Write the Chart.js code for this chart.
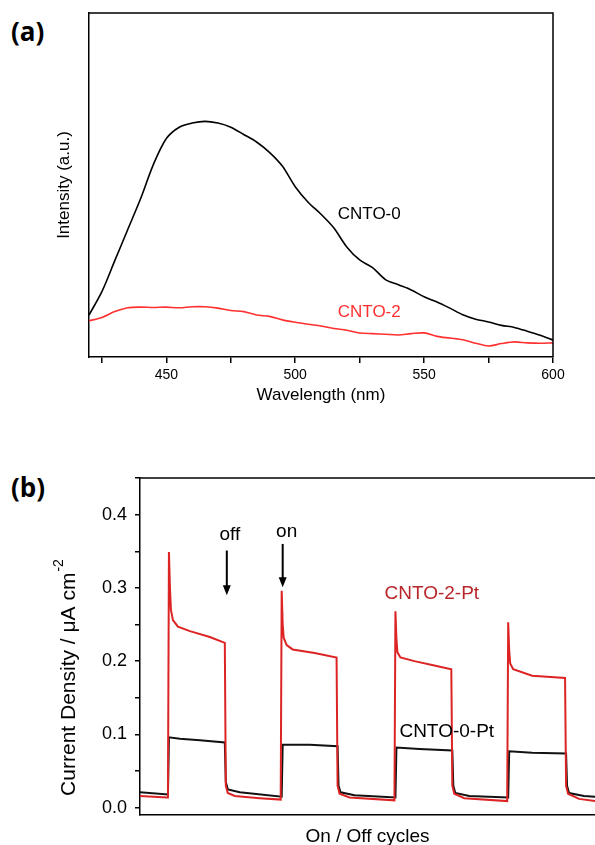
<!DOCTYPE html>
<html>
<head>
<meta charset="utf-8">
<script src="https://cdn.jsdelivr.net/npm/chart.js@4.4.0/dist/chart.umd.min.js"></script>
<style>
    html, body { margin: 0; padding: 0; width: 595px; height: 845px; overflow: hidden; background: #fff; }
    .panel-label { position: absolute; font-family: 'Open Sans', sans-serif; font-weight: 700; font-size: 26px; line-height: 1; color: #000; }
    #wrapA { position: absolute; left: 0; top: 0; width: 595px; height: 415px; }
    #wrapB { position: absolute; left: 0; top: 430px; width: 595px; height: 430px; }
</style>
</head>
<body>
<div class="panel-label" style="left:11px; top:18px;">(a)</div>
<div class="panel-label" style="left:11px; top:474px;">(b)</div>
<div id="wrapA"><canvas id="plChart"></canvas></div>
<div id="wrapB"><canvas id="currentChart"></canvas></div>
<script>
    // (a) PL spectra (arbitrary intensity units)
    const wavelengths = [420, 425, 430, 435, 440, 445, 450, 455, 460, 465, 470, 475, 480, 485, 490, 495, 500,
        505, 510, 515, 520, 525, 530, 535, 540, 545, 550, 555, 560, 565, 570, 575, 580, 585, 590, 595, 600];
    const cnto0 = [12.2, 19, 28, 37, 46, 56, 63.5, 66.8, 68, 68.5, 68, 66.8, 64.7, 62.5, 59.5, 55.5, 49.5,
        45, 41.5, 37.5, 32, 28.2, 26, 22.5, 21, 19.5, 17.5, 16, 14.2, 12.3, 11, 10.2, 9.2, 8.6, 7.5, 6.3, 4.9];
    const cnto2 = [10.5, 11.5, 13.2, 14.3, 14.5, 14.4, 14.5, 14.3, 14.6, 14.6, 14.2, 13.5, 13.2, 12.2, 11.8, 10.8, 10.1,
        9.5, 9.0, 8.3, 7.8, 7.0, 6.8, 6.6, 6.4, 6.8, 7.0, 6.0, 5.5, 5.0, 4.0, 3.2, 3.9, 4.4, 4.1, 4.0, 4.1];
    const wlTicks = [425, 450, 475, 500, 525, 550, 575, 600];
    const wlLabels = [450, 500, 550, 600];

    // (b) photocurrent on/off response (time in s, current in uA cm-2)
    const redTime = [0, 27, 28, 29, 30, 31, 33, 38, 50, 70, 85, 86, 88, 95, 120, 141,
        142, 143, 144, 147, 153, 175, 197, 198, 200, 210, 255,
        256, 257, 258, 261, 275, 295, 312, 313, 315, 325, 368,
        369, 370, 371, 374, 393, 426, 427, 429, 440, 456];
    const redCurrent = [0.016, 0.014, 0.014, 0.349, 0.300, 0.270, 0.256, 0.247, 0.241, 0.233, 0.225, 0.030, 0.020, 0.016, 0.013, 0.011,
        0.296, 0.250, 0.232, 0.222, 0.216, 0.211, 0.205, 0.030, 0.019, 0.014, 0.010,
        0.268, 0.230, 0.212, 0.205, 0.200, 0.194, 0.189, 0.030, 0.019, 0.013, 0.009,
        0.253, 0.215, 0.197, 0.189, 0.180, 0.177, 0.030, 0.019, 0.012, 0.009];
    const blackTime = [0, 28, 29, 40, 60, 85, 86, 88, 100, 142,
        143, 170, 198, 199, 201, 215, 256, 257, 280, 313,
        314, 316, 330, 369, 370, 393, 427, 428, 430, 445, 456];
    const blackCurrent = [0.021, 0.018, 0.096, 0.094, 0.092, 0.089, 0.035, 0.025, 0.021, 0.015,
        0.086, 0.086, 0.084, 0.030, 0.021, 0.017, 0.014, 0.082, 0.080, 0.078,
        0.030, 0.020, 0.016, 0.014, 0.077, 0.075, 0.074, 0.030, 0.020, 0.016, 0.015];
    const currentTicks = [0, 0.05, 0.1, 0.15, 0.2, 0.25, 0.3, 0.35, 0.4, 0.45];

    const fontFamily = "'Liberation Sans', Arial, sans-serif";
    Chart.defaults.font.family = fontFamily;
    Chart.defaults.color = '#000';

    function toPoints(xs, ys) {
        return xs.map((x, i) => ({ x: x, y: ys[i] }));
    }

    // frame lines that the axes themselves don't draw
    const framePlugin = {
        id: 'frame',
        afterDraw(chart, args, opts) {
            const { ctx, chartArea: a } = chart;
            ctx.save();
            ctx.strokeStyle = '#000';
            ctx.lineWidth = 1.5;
            ctx.beginPath();
            ctx.moveTo(a.left, a.top);
            ctx.lineTo(a.right, a.top);
            if (opts.right) ctx.lineTo(a.right, a.bottom);
            ctx.stroke();
            ctx.restore();
        }
    };

    // text labels and arrows placed in data units
    const notesPlugin = {
        id: 'notes',
        afterDatasetsDraw(chart, args, opts) {
            const { ctx, scales: { x, y } } = chart;
            ctx.save();
            (opts.arrows || []).forEach(a => {
                const px = x.getPixelForValue(a.x);
                const y1 = y.getPixelForValue(a.from);
                const y2 = y.getPixelForValue(a.to);
                ctx.strokeStyle = '#000';
                ctx.fillStyle = '#000';
                ctx.lineWidth = 2;
                ctx.beginPath();
                ctx.moveTo(px, y1);
                ctx.lineTo(px, y2 - 8);
                ctx.stroke();
                ctx.beginPath();
                ctx.moveTo(px - 4, y2 - 10);
                ctx.lineTo(px + 4, y2 - 10);
                ctx.lineTo(px, y2);
                ctx.closePath();
                ctx.fill();
            });
            (opts.texts || []).forEach(t => {
                ctx.font = t.size + 'px ' + fontFamily;
                ctx.fillStyle = t.color || '#000';
                ctx.textAlign = t.align || 'left';
                ctx.textBaseline = 'middle';
                ctx.fillText(t.text, x.getPixelForValue(t.x), y.getPixelForValue(t.y));
            });
            ctx.restore();
        }
    };

    // rotated y title with a superscript
    const yTitlePlugin = {
        id: 'yTitle',
        afterDraw(chart, args, opts) {
            if (!opts.text) return;
            const ctx = chart.ctx;
            ctx.save();
            ctx.translate(opts.x, opts.y);
            ctx.rotate(-Math.PI / 2);
            ctx.fillStyle = '#000';
            ctx.textBaseline = 'middle';
            ctx.textAlign = 'left';
            ctx.font = opts.size + 'px ' + fontFamily;
            const w = ctx.measureText(opts.text).width;
            ctx.font = Math.round(opts.size * 0.65) + 'px ' + fontFamily;
            const ws = ctx.measureText(opts.sup).width;
            let start = -(w + ws) / 2;
            ctx.font = opts.size + 'px ' + fontFamily;
            ctx.fillText(opts.text, start, 0);
            ctx.font = Math.round(opts.size * 0.65) + 'px ' + fontFamily;
            ctx.fillText(opts.sup, start + w + 1, -opts.size * 0.45);
            ctx.restore();
        }
    };

    document.addEventListener('DOMContentLoaded', function() {
        // ---- (a) ----
        new Chart(document.getElementById('plChart').getContext('2d'), {
            type: 'line',
            data: {
                datasets: [
                    {
                        label: 'CNTO-0',
                        data: toPoints(wavelengths, cnto0),
                        borderColor: '#000',
                        borderWidth: 1.6,
                        pointRadius: 0,
                        tension: 0.3
                    },
                    {
                        label: 'CNTO-2',
                        data: toPoints(wavelengths, cnto2),
                        borderColor: '#ff3030',
                        borderWidth: 1.6,
                        pointRadius: 0,
                        tension: 0.3
                    }
                ]
            },
            plugins: [framePlugin, notesPlugin],
            options: {
                responsive: true,
                maintainAspectRatio: false,
                animation: false,
                layout: { padding: { top: 13, right: 42, bottom: 0, left: 0 } },
                plugins: {
                    legend: { display: false },
                    tooltip: { enabled: false },
                    frame: { right: true },
                    notes: {
                        texts: [
                            { text: 'CNTO-0', x: 516.5, y: 41.6, size: 17 },
                            { text: 'CNTO-2', x: 516.5, y: 13.1, size: 17, color: '#ff3030' }
                        ]
                    }
                },
                scales: {
                    x: {
                        type: 'linear',
                        min: 420,
                        max: 600,
                        afterBuildTicks: function(scale) {
                            scale.ticks = wlTicks.map(v => ({ value: v }));
                        },
                        ticks: {
                            font: { size: 14 },
                            padding: 4,
                            maxRotation: 0,
                            autoSkip: false,
                            callback: function(value) {
                                return wlLabels.includes(value) ? String(value) : '';
                            }
                        },
                        grid: { drawOnChartArea: false, drawTicks: true, tickLength: 6, color: '#000', lineWidth: 1.5 },
                        border: { display: true, color: '#000', width: 1.5 },
                        title: { display: true, text: 'Wavelength (nm)', font: { size: 17 }, padding: { top: 0, bottom: 9 } },
                        afterFit: function(scale) { scale.height = 58; }
                    },
                    y: {
                        min: 0,
                        max: 100,
                        ticks: { display: false },
                        grid: { display: false },
                        border: { display: true, color: '#000', width: 1.5 },
                        title: { display: true, text: 'Intensity (a.u.)', font: { size: 17 }, padding: { top: 54, bottom: 0 } },
                        afterFit: function(scale) { scale.width = 89; }
                    }
                }
            }
        });

        // ---- (b) ----
        new Chart(document.getElementById('currentChart').getContext('2d'), {
            type: 'line',
            data: {
                datasets: [
                    {
                        label: 'CNTO-2-Pt',
                        data: toPoints(redTime, redCurrent),
                        borderColor: '#dc2424',
                        borderWidth: 2,
                        pointRadius: 0,
                        tension: 0
                    },
                    {
                        label: 'CNTO-0-Pt',
                        data: toPoints(blackTime, blackCurrent),
                        borderColor: '#111',
                        borderWidth: 2,
                        pointRadius: 0,
                        tension: 0
                    }
                ]
            },
            plugins: [framePlugin, notesPlugin, yTitlePlugin],
            options: {
                responsive: true,
                maintainAspectRatio: false,
                animation: false,
                layout: { padding: { top: 48, right: 0, bottom: 0, left: 0 } },
                plugins: {
                    legend: { display: false },
                    tooltip: { enabled: false },
                    frame: { right: false },
                    notes: {
                        arrows: [
                            { x: 87, from: 0.351, to: 0.290 },
                            { x: 143, from: 0.360, to: 0.301 }
                        ],
                        texts: [
                            { text: 'off', x: 90, y: 0.373, size: 19, align: 'center' },
                            { text: 'on', x: 147, y: 0.377, size: 19, align: 'center' },
                            { text: 'CNTO-2-Pt', x: 245, y: 0.292, size: 19, color: '#b8262a' },
                            { text: 'CNTO-0-Pt', x: 260, y: 0.104, size: 19 }
                        ]
                    },
                    yTitle: { text: 'Current Density / \u03bcA cm', sup: '-2', size: 21, x: 69, y: 248 }
                },
                scales: {
                    x: {
                        type: 'linear',
                        min: 0,
                        max: 456,
                        ticks: { display: false },
                        grid: { display: false },
                        border: { display: true, color: '#000', width: 1.5 },
                        title: { display: true, text: 'On / Off cycles', font: { size: 19 }, padding: { top: 0, bottom: 11.6 } },
                        afterFit: function(scale) { scale.height = 45; }
                    },
                    y: {
                        min: -0.01,
                        max: 0.45,
                        afterBuildTicks: function(scale) {
                            scale.ticks = currentTicks.map(v => ({ value: v }));
                        },
                        ticks: {
                            font: { size: 18 },
                            padding: 8,
                            autoSkip: false,
                            callback: function(value) {
                                return Math.round(value * 100) % 10 === 0 && value < 0.44 ? value.toFixed(1) : '';
                            }
                        },
                        grid: { drawOnChartArea: false, drawTicks: true, tickLength: 5, color: '#000', lineWidth: 1.5 },
                        border: { display: true, color: '#000', width: 1.5 },
                        afterFit: function(scale) { scale.width = 140; }
                    }
                }
            }
        });
    });
</script>
</body>
</html>
